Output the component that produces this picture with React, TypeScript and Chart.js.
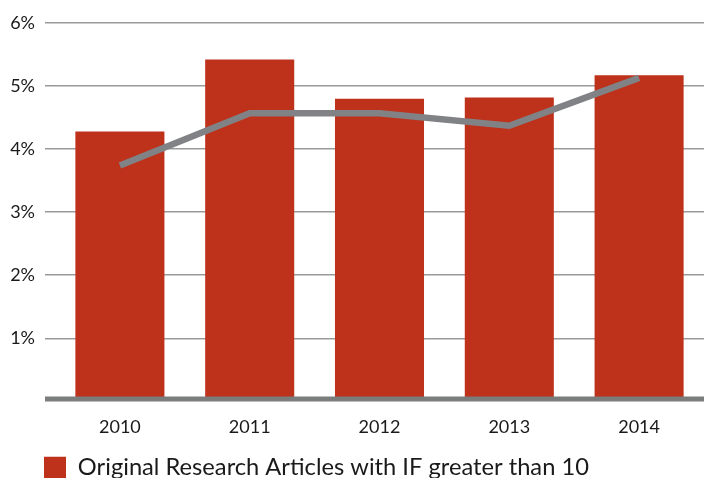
import React, { useEffect, useRef } from "react";
import { Chart, registerables } from "chart.js";

Chart.register(...registerables);

const years = ["2010", "2011", "2012", "2013", "2014"];
const barValues = [4.28, 5.42, 4.8, 4.82, 5.17];
const lineValues = [3.74, 4.57, 4.57, 4.37, 5.13];
const barLabel = "Original Research Articles with IF greater than 10";
const lineLabel = "Trend";

const legendPlace = {
  id: "legendPlace",
  afterLayout(chart: any) {
    const l = chart.legend;
    if (!l) return;
    const w = l.right - l.left;
    l.left = 40;
    l.right = 40 + w;
    const h = l.bottom - l.top;
    l.top = 452;
    l.bottom = 452 + h;
  },
};

const baseline = {
  id: "baseline",
  afterDatasetsDraw(chart: any) {
    const { ctx, chartArea, scales } = chart;
    const y0 = scales.y.getPixelForValue(0) - 2.2;
    ctx.save();
    ctx.strokeStyle = "#7b7d7d";
    ctx.lineWidth = 5;
    ctx.beginPath();
    ctx.moveTo(chartArea.left - 10, y0);
    ctx.lineTo(chartArea.right, y0);
    ctx.stroke();
    ctx.restore();
  },
};

export default function App() {
  const ref = useRef<HTMLCanvasElement | null>(null);

  useEffect(() => {
    document.body.style.margin = "0";
    if (!ref.current) return;
    const chart = new Chart(ref.current, {
      type: "bar",
      data: {
        labels: years,
        datasets: [
          {
            type: "line",
            label: lineLabel,
            data: lineValues,
            borderColor: "#808285",
            backgroundColor: "#808285",
            borderWidth: 6.5,
            pointRadius: 0,
            tension: 0,
            order: 0,
          } as any,
          {
            type: "bar",
            label: barLabel,
            data: barValues,
            backgroundColor: "#be311a",
            barPercentage: 0.686,
            categoryPercentage: 1,
            order: 1,
          },
        ],
      },
      plugins: [legendPlace, baseline],
      options: {
        animation: false,
        responsive: false,
        maintainAspectRatio: false,
        layout: { padding: { top: 23, left: 0, right: 0, bottom: 0 } },
        plugins: {
          tooltip: { enabled: false },
          legend: {
            position: "bottom",
            align: "start",
            labels: {
              filter: (item: any) => item.text === barLabel,
              boxWidth: 22,
              boxHeight: 22,
              padding: 4,
              color: "#1a1a1a",
              font: { family: "Lato", size: 23.7 },
            },
          },
        },
        scales: {
          x: {
            grid: { display: false, drawTicks: false },
            border: { display: false },
            ticks: { color: "#1a1a1a", font: { family: "Lato", size: 18 }, padding: 15 },
            afterFit: (scale: any) => {
              scale.height = 39;
            },
          },
          y: {
            min: 0,
            max: 6,
            border: { display: false },
            grid: {
              color: (c: any) => (c.tick && c.tick.value === 0 ? "rgba(0,0,0,0)" : "#9a9a9a"),
              lineWidth: 1.5,
              tickLength: 10,
              drawTicks: true,
            },
            ticks: {
              stepSize: 1,
              padding: 10,
              color: "#1a1a1a",
              font: { family: "Lato", size: 18 },
              callback: (v: any) => (Number(v) === 0 ? "" : v + "%"),
            },
            afterFit: (scale: any) => {
              scale.width = 55;
            },
          },
        },
      },
    });
    return () => chart.destroy();
  }, []);

  return (
    <div style={{ width: 704, height: 478 }}>
      <canvas ref={ref} width={704} height={478} style={{ display: "block" }} />
    </div>
  );
}
